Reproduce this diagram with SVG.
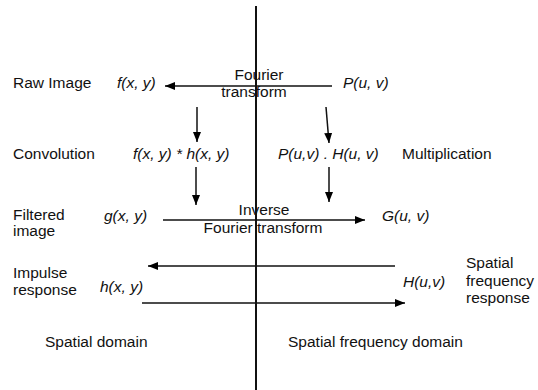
<svg xmlns="http://www.w3.org/2000/svg" width="538" height="390" viewBox="0 0 538 390">
<defs>
<marker id="ah" viewBox="0 0 10 8" refX="10" refY="4" markerWidth="10" markerHeight="8" markerUnits="userSpaceOnUse" orient="auto">
<path d="M0,0 L10,4 L0,8 Z" fill="#000"/>
</marker>
<style>
text{font-family:"Liberation Sans",Arial,sans-serif;font-size:15.5px;fill:#111}
.m{font-style:italic}
.c{text-anchor:middle}
.a{stroke:#111;stroke-width:1.5;fill:none;marker-end:url(#ah)}
</style>
</defs>
<rect width="538" height="390" fill="#fff"/>
<line x1="256" y1="6" x2="256" y2="390" stroke="#111" stroke-width="2"/>
<g id="connectors">
<line class="a" x1="332" y1="86" x2="165" y2="86"/>
<line class="a" x1="197" y1="107" x2="197" y2="142"/>
<line class="a" x1="326" y1="107" x2="329" y2="143"/>
<line class="a" x1="196" y1="167" x2="196" y2="205"/>
<line class="a" x1="329" y1="167" x2="329" y2="202"/>
<line class="a" x1="163" y1="220" x2="365" y2="220"/>
<line class="a" x1="395" y1="266" x2="148" y2="266"/>
<line class="a" x1="142" y1="303" x2="405" y2="303"/>
</g>
<g id="labels">
<text x="13" y="88">Raw Image</text>
<text x="13" y="159">Convolution</text>
<text x="13" y="220">Filtered</text>
<text x="13" y="236">image</text>
<text x="13" y="278">Impulse</text>
<text x="13" y="295">response</text>
<text x="402" y="159">Multiplication</text>
<text x="466" y="268">Spatial</text>
<text x="466" y="286">frequency</text>
<text x="466" y="303">response</text>
<text x="45" y="347">Spatial domain</text>
<text x="288" y="347">Spatial frequency domain</text>
<text class="c" x="259" y="80">Fourier</text>
<text class="c" x="254" y="97">transform</text>
<text class="c" x="264" y="215">Inverse</text>
<text class="c" x="263" y="233">Fourier  transform</text>
</g>
<g id="n-fxy"><text class="m" x="117" y="88">f(x, y)</text></g>
<g id="n-Puv"><text class="m" x="343" y="88">P(u, v)</text></g>
<g id="n-conv"><text class="m" x="133" y="159">f(x, y) * h(x, y)</text></g>
<g id="n-mult"><text class="m" x="278" y="159">P(u,v) . H(u, v)</text></g>
<g id="n-gxy"><text class="m" x="104" y="221">g(x, y)</text></g>
<g id="n-Guv"><text class="m" x="382" y="221">G(u, v)</text></g>
<g id="n-hxy"><text class="m" x="100" y="292">h(x, y)</text></g>
<g id="n-Huv"><text class="m" x="403" y="287">H(u,v)</text></g>
</svg>
